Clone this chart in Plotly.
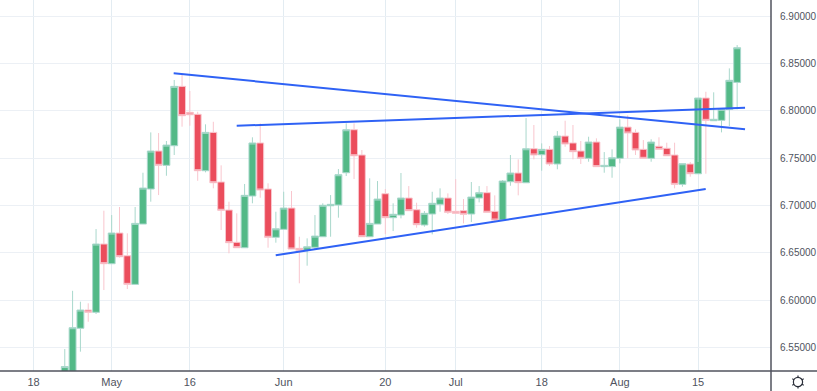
import math
import plotly.graph_objects as go

bar_index = list(range(4, 91))
opens = [6.510, 6.525, 6.5704, 6.5897, 6.5873, 6.6594, 6.6386, 6.6710, 6.6470, 6.6168,
         6.6805, 6.7175, 6.7576, 6.7425, 6.7632, 6.8259, 6.7985, 6.7964, 6.7368, 6.7773,
         6.7249, 6.6953, 6.6612, 6.6555, 6.7101, 6.7661, 6.7175, 6.6665, 6.6749, 6.6974,
         6.6548, 6.6527, 6.6559, 6.6671, 6.6998, 6.7006, 6.7347, 6.7801, 6.7534, 6.6671,
         6.6805, 6.7125, 6.6872, 6.6900, 6.7080, 6.6956, 6.6795, 6.6911, 6.7013, 6.7080,
         6.6939, 6.6946, 6.6911, 6.7080, 6.7136, 6.6939, 6.6847, 6.7252, 6.7344, 6.7241,
         6.7600, 6.7537, 6.7594, 6.7439, 6.7734, 6.7661, 6.7576, 6.7499, 6.7671, 6.7411,
         6.7411, 6.7499, 6.7829, 6.7773, 6.7594, 6.7499, 6.7626, 6.7605, 6.7534, 6.7224,
         6.7439, 6.7336, 6.8136, 6.7896, 6.7900, 6.8016, 6.8301]
highs = [6.5485, 6.6100, 6.5985, 6.5968, 6.6752, 6.6946, 6.6900, 6.6985, 6.6707, 6.6985,
         6.7347, 6.7773, 6.7766, 6.7682, 6.8326, 6.8379, 6.8210, 6.7991, 6.7858, 6.7885,
         6.7425, 6.7041, 6.6918, 6.7228, 6.7721, 6.7868, 6.7235, 6.6935, 6.7146, 6.7154,
         6.6671, 6.6654, 6.6900, 6.7024, 6.7111, 6.7386, 6.7868, 6.7868, 6.7587, 6.7288,
         6.7259, 6.7175, 6.7024, 6.7344, 6.7206, 6.7030, 6.6942, 6.7146, 6.7182, 6.7129,
         6.7280, 6.7069, 6.7249, 6.7206, 6.7206, 6.7108, 6.7270, 6.7534, 6.7488, 6.7924,
         6.7851, 6.7657, 6.7629, 6.7787, 6.7896, 6.7851, 6.7682, 6.7727, 6.7710, 6.7565,
         6.7594, 6.7911, 6.7953, 6.7805, 6.7692, 6.7700, 6.7721, 6.7664, 6.7664, 6.7442,
         6.7460, 6.7460, 6.8202, 6.8196, 6.8009, 6.8449, 6.8695]
lows = [6.500, 6.510, 6.5457, 6.5773, 6.5855, 6.6108, 6.6386, 6.6450, 6.6119, 6.6168,
        6.6805, 6.7041, 6.7111, 6.7315, 6.7534, 6.7833, 6.7843, 6.7262, 6.7351, 6.7182,
        6.6742, 6.6496, 6.6555, 6.6555, 6.7024, 6.7083, 6.6555, 6.6608, 6.6749, 6.6541,
        6.6179, 6.6365, 6.6541, 6.6671, 6.6671, 6.6872, 6.7312, 6.7280, 6.6671, 6.6671,
        6.6805, 6.6699, 6.6731, 6.6865, 6.6946, 6.6766, 6.6777, 6.6696, 6.6935, 6.6911,
        6.6918, 6.6812, 6.6826, 6.7034, 6.6929, 6.6826, 6.6847, 6.7209, 6.7108, 6.7241,
        6.7488, 6.7368, 6.7418, 6.7383, 6.7621, 6.7488, 6.7439, 6.7463, 6.7411, 6.7347,
        6.7294, 6.7446, 6.7499, 6.7534, 6.7499, 6.7463, 6.7594, 6.7526, 6.7182, 6.7199,
        6.7305, 6.7336, 6.7336, 6.7900, 6.7773, 6.7840, 6.8016]
closes = [6.530, 6.5710, 6.5897, 6.5873, 6.6594, 6.6386, 6.6710, 6.6460, 6.6168, 6.6812,
          6.7185, 6.7576, 6.7425, 6.7639, 6.8259, 6.7949, 6.7959, 6.7368, 6.7773, 6.7241,
          6.6950, 6.6608, 6.6555, 6.7108, 6.7661, 6.7164, 6.6665, 6.6755, 6.6974, 6.6541,
          6.6527, 6.6565, 6.6678, 6.7003, 6.7013, 6.7326, 6.7801, 6.7526, 6.6671, 6.6812,
          6.7069, 6.6872, 6.6908, 6.7080, 6.6946, 6.6798, 6.6918, 6.7024, 6.7080, 6.6929,
          6.6918, 6.6908, 6.7090, 6.7136, 6.6929, 6.6847, 6.7259, 6.7344, 6.7241, 6.7600,
          6.7534, 6.7594, 6.7439, 6.7734, 6.7650, 6.7569, 6.7499, 6.7671, 6.7411, 6.7425,
          6.7505, 6.7829, 6.7766, 6.7587, 6.7499, 6.7671, 6.7594, 6.7526, 6.7224, 6.7442,
          6.7336, 6.8136, 6.7900, 6.7911, 6.8016, 6.8323, 6.8667]

tick_positions = [0, 10, 20, 32, 45, 54, 65, 75, 85]
tick_labels = ["18", "May", "16", "Jun", "20", "Jul", "18", "Aug", "15"]
price_ticks = [6.55, 6.60, 6.65, 6.70, 6.75, 6.80, 6.85, 6.90]

trend_a_x = [17.93, 91.01]
trend_a_y = [6.8397, 6.7805]
trend_b_x = [25.99, 91.01]
trend_b_y = [6.7843, 6.8033]
trend_c_x = [30.98, 85.98]
trend_c_y = [6.6475, 6.7175]

fig = go.Figure()
fig.add_trace(go.Candlestick(
    x=bar_index, open=opens, high=highs, low=lows, close=closes,
    increasing=dict(fillcolor="#53b987", line=dict(color="#a9d8cc", width=1)),
    decreasing=dict(fillcolor="#eb4d5c", line=dict(color="#f9c6ce", width=1)),
    whiskerwidth=0, showlegend=False, hoverinfo="skip",
))
for xs, ys in ((trend_a_x, trend_a_y), (trend_b_x, trend_b_y), (trend_c_x, trend_c_y)):
    fig.add_trace(go.Scatter(x=xs, y=ys, mode="lines", showlegend=False, hoverinfo="skip",
                             line=dict(color="#2f62f5", width=2)))

# settings icon in the bottom-right corner: ring with six small teeth (paper coordinates)
plot_w, plot_h = 771.0, 371.0
cx, cy = 798.0, 382.0
def px(x): return x / plot_w
def py(y): return (plot_h - y) / plot_h
icon = [dict(type="circle", xref="paper", yref="paper",
             x0=px(cx - 4.6), x1=px(cx + 4.6), y0=py(cy + 4.6), y1=py(cy - 4.6),
             line=dict(color="#2a2e39", width=1.2))]
for k in range(6):
    a = math.radians(30 + 60 * k)
    icon.append(dict(type="line", xref="paper", yref="paper",
                     x0=px(cx + 4.6 * math.cos(a)), x1=px(cx + 6.6 * math.cos(a)),
                     y0=py(cy + 4.6 * math.sin(a)), y1=py(cy + 6.6 * math.sin(a)),
                     line=dict(color="#2a2e39", width=1.2)))

fig.update_layout(
    width=817, height=391, margin=dict(l=0, r=46, t=0, b=20, pad=0),
    paper_bgcolor="white", plot_bgcolor="white", boxgap=0.12, boxgroupgap=0,
    font=dict(family="Liberation Sans, sans-serif", size=10, color="#50535e"),
    shapes=[
        dict(type="line", xref="paper", yref="paper", x0=0, x1=1.0597, y0=0, y1=0,
             line=dict(color="#50535e", width=1.5), layer="above"),
        dict(type="line", xref="paper", yref="paper", x0=1, x1=1, y0=-0.0539, y1=1,
             line=dict(color="#50535e", width=1.5), layer="above"),
    ] + icon,
)
fig.update_xaxes(range=[-4.285, 94.33], tickmode="array", tickvals=tick_positions,
                 ticktext=tick_labels, rangeslider=dict(visible=False), automargin=False,
                 showgrid=True, gridcolor="#e3ecf2", gridwidth=1, zeroline=False,
                 showline=False, ticks="", ticklabelstandoff=3,
                 tickfont=dict(size=11))
fig.update_yaxes(range=[6.5253, 6.9171], side="right", tickmode="array", tickvals=price_ticks,
                 ticktext=[f"{v:.5f}" for v in price_ticks], automargin=False,
                 showgrid=True, gridcolor="#ecf0f5", gridwidth=1, zeroline=False,
                 showline=False, ticks="", ticklabelstandoff=8,
                 tickfont=dict(size=10))
fig.write_html("out.html", config=dict(displayModeBar=False),
               post_script="document.body.style.margin='0';document.body.style.overflow='hidden';")
